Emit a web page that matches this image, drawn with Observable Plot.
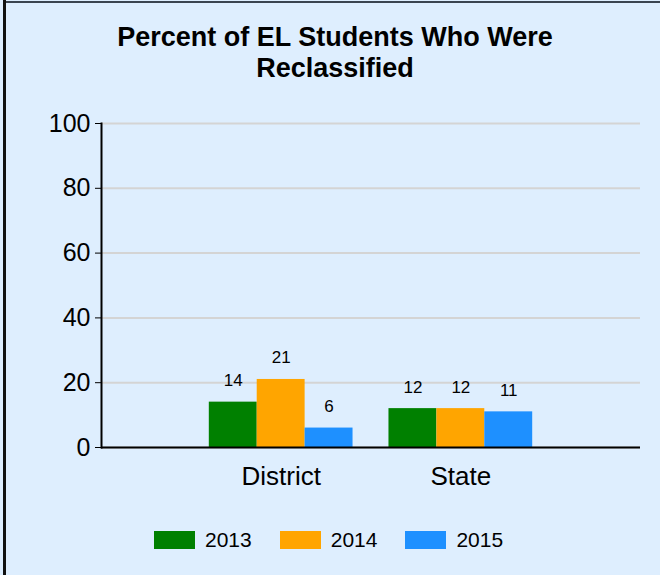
<!DOCTYPE html>
<html>
<head>
<meta charset="utf-8">
<script src="https://cdn.jsdelivr.net/npm/d3@7"></script>
<script src="https://cdn.jsdelivr.net/npm/@observablehq/plot@0.6"></script>
<style>
  html, body { margin: 0; padding: 0; background: #ffffff; }
  #wrap { position: relative; width: 660px; height: 575px; background: #deeefe; overflow: hidden;
          font-family: "Liberation Sans", Arial, sans-serif; color: #000; }
  #bleft { position: absolute; left: 3px; top: 0; width: 3px; height: 575px; background: #111; }
  #btop { position: absolute; left: 3px; top: 1px; width: 657px; height: 2px; background: #3a4450; }
  #title { position: absolute; left: 10px; top: 22px; width: 650px; text-align: center;
           font-weight: bold; font-size: 27px; line-height: 31px; }
  #chart { position: absolute; left: 0; top: 95px; }
  #legend { position: absolute; left: 154px; top: 528px; height: 24px; display: flex; align-items: center; font-size: 21px; }
  .item { display: flex; align-items: center; margin-right: 28px; }
  .sw { width: 41px; height: 18px; margin-right: 10px; }
</style>
</head>
<body>
<div id="wrap">
  <div id="btop"></div>
  <div id="bleft"></div>
  <div id="title">Percent of EL Students Who Were<br>Reclassified</div>
  <div id="chart"></div>
  <div id="legend"></div>
</div>
<script>
const groups = ["District", "State"];
const years = ["2013", "2014", "2015"];
const colors = ["#008000", "#FFA500", "#1E90FF"];
const districtValues = [14, 21, 6];
const stateValues = [12, 12, 11];
const yTicks = [0, 20, 40, 60, 80, 100];

const seriesByGroup = [districtValues, stateValues];
const data = groups.flatMap((g, gi) => years.map((yr, i) => ({group: g, year: yr, value: seriesByGroup[gi][i]})));

const W = 660, H = 415, mL = 101, mR = 20, mT = 28, mB = 63;
const pIn = 0.2, pOut = 0.6;
const step = (W - mL - mR) / (groups.length - pIn + 2 * pOut);
const bw = step * (1 - pIn) / years.length;

const plot = Plot.plot({
  width: W, height: H,
  marginLeft: mL, marginRight: mR, marginTop: mT, marginBottom: mB,
  style: {fontFamily: '"Liberation Sans", Arial, sans-serif', fontSize: "25px", background: "transparent", color: "#000"},
  x: {domain: groups, paddingInner: pIn, paddingOuter: pOut, round: false, label: null},
  y: {domain: [0, 100], label: null},
  color: {domain: years, range: colors},
  marks: [
    Plot.gridY({ticks: yTicks, stroke: "#d4d4d4", strokeOpacity: 1, strokeWidth: 2}),
    ...years.map((yr, i) => Plot.barY(data.filter(d => d.year === yr), {
      x: "group", y: "value", fill: "year",
      insetLeft: i * bw, insetRight: (years.length - 1 - i) * bw
    })),
    ...years.map((yr, i) => Plot.text(data.filter(d => d.year === yr), {
      x: "group", y: "value", text: d => String(d.value),
      dx: (i - 1) * bw, dy: -16, lineAnchor: "bottom", fontSize: 17, fill: "#000"
    })),
    Plot.ruleY([0], {stroke: "#000", strokeWidth: 2}),
    Plot.frame({anchor: "left", stroke: "#000", strokeWidth: 2}),
    Plot.axisY({ticks: yTicks, tickSize: 6, tickPadding: 5, fontSize: 25, label: null}),
    Plot.axisX({tickSize: 0, tickPadding: 19, fontSize: 26, label: null})
  ]
});
document.getElementById("chart").appendChild(plot);

const legend = document.getElementById("legend");
years.forEach((yr, i) => {
  const item = document.createElement("div");
  item.className = "item";
  const sw = document.createElement("div");
  sw.className = "sw";
  sw.style.background = colors[i];
  const t = document.createElement("span");
  t.textContent = yr;
  item.appendChild(sw);
  item.appendChild(t);
  legend.appendChild(item);
});
</script>
</body>
</html>
